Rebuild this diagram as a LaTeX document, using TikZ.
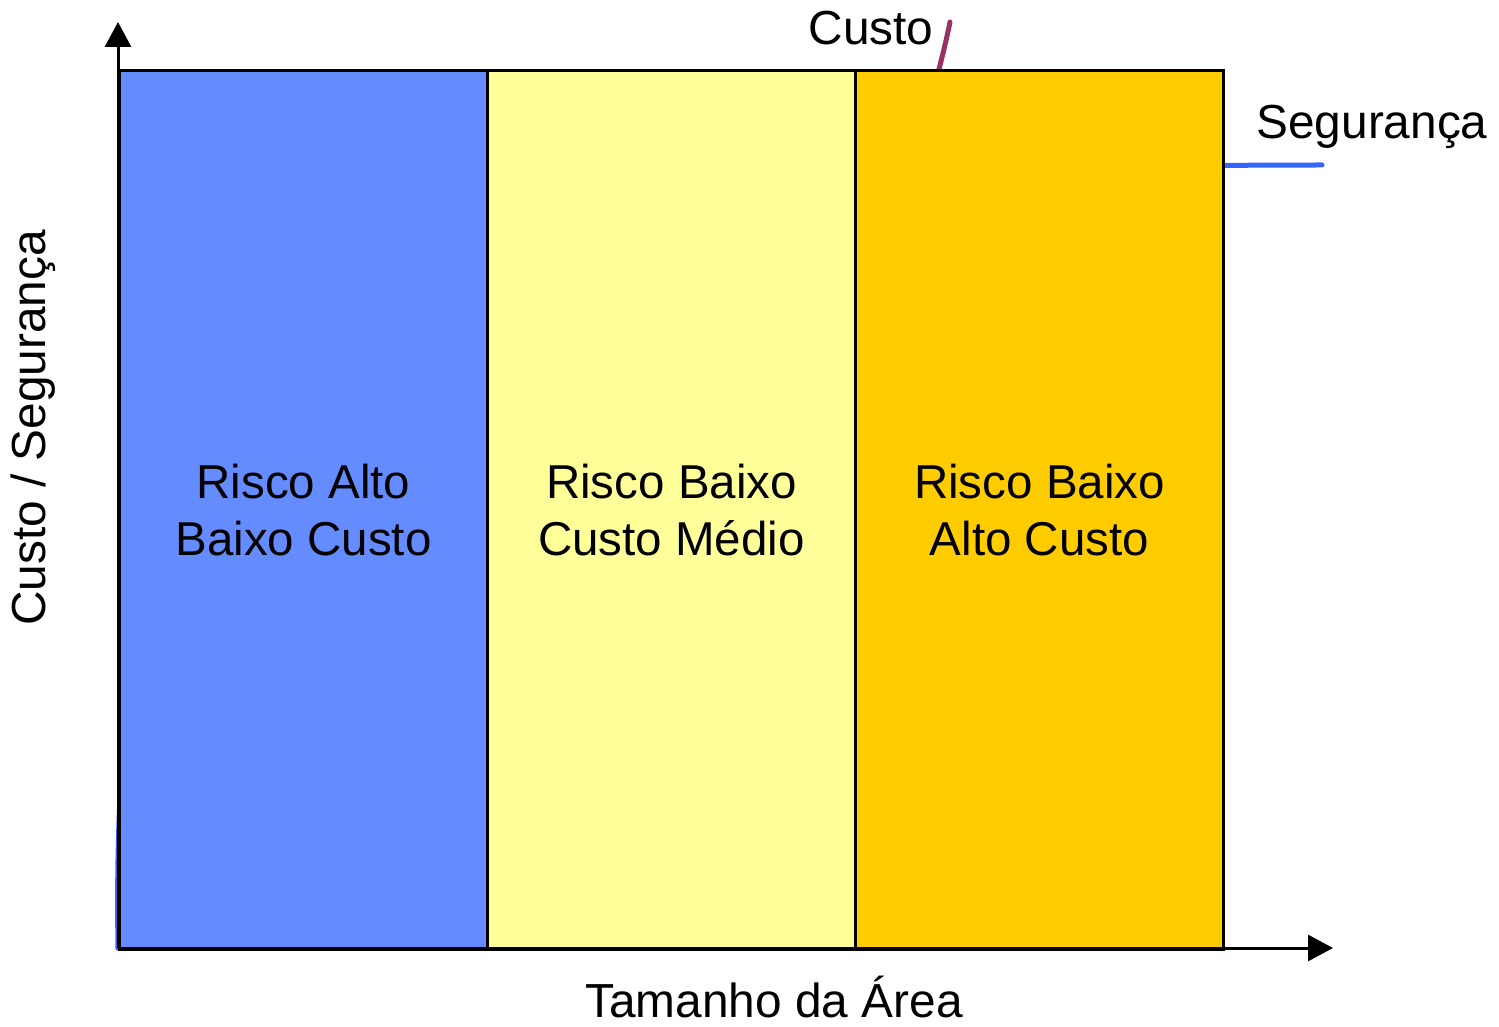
\documentclass[tikz,border=0pt]{standalone}
\usepackage{fontspec}
\setmainfont{Liberation Sans}
\usetikzlibrary{arrows.meta,positioning}
\definecolor{zoneblue}{RGB}{100,140,255}
\definecolor{zoneyellow}{RGB}{255,255,153}
\definecolor{zoneorange}{RGB}{255,204,0}
\definecolor{custoline}{RGB}{153,51,102}
\definecolor{segline}{RGB}{51,102,255}
\begin{document}
\begin{tikzpicture}[x=0.5pt,y=-0.5pt,
  zone/.style={draw=black,line width=1.5pt,minimum width=184pt,minimum height=439.5pt,
    inner sep=0pt,anchor=north west,align=center,font=\fontsize{23.75}{28.5}\selectfont},
  axis/.style={draw=black,line width=1.5pt,-{Triangle[length=12.5pt,width=13pt]}},
  curve/.style={line width=2.5pt,line cap=round},
  lbl/.style={font=\fontsize{23.9}{28}\selectfont}]
  \useasboundingbox (0,0) rectangle (1499,1027);

  \coordinate (origin) at (118,948);
  \coordinate (ytop) at (118,22);
  \coordinate (xend) at (1333,948);
  \coordinate (custoend) at (950,22);
  \coordinate (segend) at (1322,165);

  % curves behind the zones
  \draw[curve,custoline] (origin) .. controls (700,948) and (925,150) .. (custoend);
  \draw[curve,segline] (origin) .. controls (108,300) and (300,165) .. (segend);

  % zones
  \node[zone,fill=zoneblue] (low) at (118,69) {Risco Alto\\Baixo Custo};
  \node[zone,fill=zoneyellow] (mid) at (486,69) {Risco Baixo\\Custo Médio};
  \node[zone,fill=zoneorange] (high) at (854,69) {Risco Baixo\\Alto Custo};

  % axes
  \draw[axis] (origin) -- (ytop);
  \draw[axis] (origin) -- (xend);

  % labels
  \node[lbl] (custo) at (871,28) {Custo};
  \node[lbl] (seg) at (1372,127) {Segurança};
  \node[lbl] (xlabel) at (774,997) {Tamanho da Área};
  \node[lbl,rotate=90] (ylabel) at (33,428) {Custo / Segurança};
\end{tikzpicture}
\end{document}
